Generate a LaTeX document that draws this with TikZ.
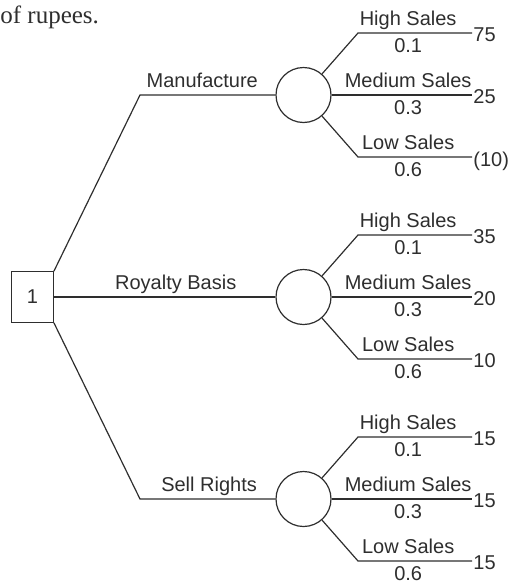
\documentclass[tikz,border=0pt]{standalone}
\usepackage{fontspec}
\setmainfont{Liberation Serif}
\setsansfont{Liberation Sans}
\usepackage{xcolor}
\usepackage{tikz}
\usetikzlibrary{positioning}

\definecolor{ink}{gray}{0.18}

\begin{document}
\begin{tikzpicture}[x=0.5pt, y=-0.5pt,
  dec/.style={draw=ink, line width=0.6pt, inner sep=0pt, minimum width=20.8pt,
              minimum height=25.2pt, font=\sffamily\fontsize{10}{12}\selectfont, text=ink},
  ch/.style={draw=ink, line width=0.6pt, circle, inner sep=0pt, minimum size=27.5pt},
  ln/.style={ink, line width=0.6pt},
  lb/.style={font=\sffamily\fontsize{10}{12}\selectfont, text=ink, inner sep=0pt, text depth=0pt},
  pay/.style={lb, anchor=west, xshift=0.4pt, yshift=-1pt}]
\useasboundingbox (0,0) rectangle (515,584);
\node[anchor=base west, inner sep=0pt, font=\fontsize{12.5}{15}\selectfont, text=ink] (hdr) at (0,23) {of rupees.};
% decision node and the three chance nodes
\node[dec] (d1) at (32.5,297) {1};
\node[ch] (c1) at (303.5,95) {};
\node[ch] (c2) at (303.5,297) {};
\node[ch] (c3) at (303.5,499) {};
\coordinate (mb) at (140,95);
\coordinate (sb) at (140,499);
\path (c1) ++(54.5,-62) coordinate (c1h) ++(114,0) coordinate (c1he) (c1) ++(168.5,0) coordinate (c1me) (c1) ++(54.5,62) coordinate (c1l) ++(114,0) coordinate (c1le);
\path (c2) ++(54.5,-62) coordinate (c2h) ++(114,0) coordinate (c2he) (c2) ++(168.5,0) coordinate (c2me) (c2) ++(54.5,62) coordinate (c2l) ++(114,0) coordinate (c2le);
\path (c3) ++(54.5,-62) coordinate (c3h) ++(114,0) coordinate (c3he) (c3) ++(168.5,0) coordinate (c3me) (c3) ++(54.5,62) coordinate (c3l) ++(114,0) coordinate (c3le);
% decisions
\draw[ln] (d1.north east) -- (mb) -- node[lb, above=3.7pt, pos=.46]{Manufacture} (c1);
\draw[ln] (d1) -- node[lb, above=3.7pt, pos=.55]{Royalty Basis} (c2);
\draw[ln] (d1.south east) -- (sb) -- node[lb, above=3.7pt, pos=.51]{Sell Rights} (c3);
% Manufacture
\draw[ln] (c1) -- (c1h) -- node[lb, above=3.7pt, pos=.44]{High Sales} node[lb, below=2.3pt, pos=.44]{0.1} (c1he) node[pay]{75};
\draw[ln] (c1) -- node[lb, above=3.7pt, pos=.545]{Medium Sales} node[lb, below=2.3pt, pos=.545]{0.3} (c1me) node[pay]{25};
\draw[ln] (c1) -- (c1l) -- node[lb, above=3.7pt, pos=.44]{Low Sales} node[lb, below=2.3pt, pos=.44]{0.6} (c1le) node[pay]{(10)};
% Royalty Basis
\draw[ln] (c2) -- (c2h) -- node[lb, above=3.7pt, pos=.44]{High Sales} node[lb, below=2.3pt, pos=.44]{0.1} (c2he) node[pay]{35};
\draw[ln] (c2) -- node[lb, above=3.7pt, pos=.545]{Medium Sales} node[lb, below=2.3pt, pos=.545]{0.3} (c2me) node[pay]{20};
\draw[ln] (c2) -- (c2l) -- node[lb, above=3.7pt, pos=.44]{Low Sales} node[lb, below=2.3pt, pos=.44]{0.6} (c2le) node[pay]{10};
% Sell Rights
\draw[ln] (c3) -- (c3h) -- node[lb, above=3.7pt, pos=.44]{High Sales} node[lb, below=2.3pt, pos=.44]{0.1} (c3he) node[pay]{15};
\draw[ln] (c3) -- node[lb, above=3.7pt, pos=.545]{Medium Sales} node[lb, below=2.3pt, pos=.545]{0.3} (c3me) node[pay]{15};
\draw[ln] (c3) -- (c3l) -- node[lb, above=3.7pt, pos=.44]{Low Sales} node[lb, below=2.3pt, pos=.44]{0.6} (c3le) node[pay]{15};
\end{tikzpicture}
\end{document}
